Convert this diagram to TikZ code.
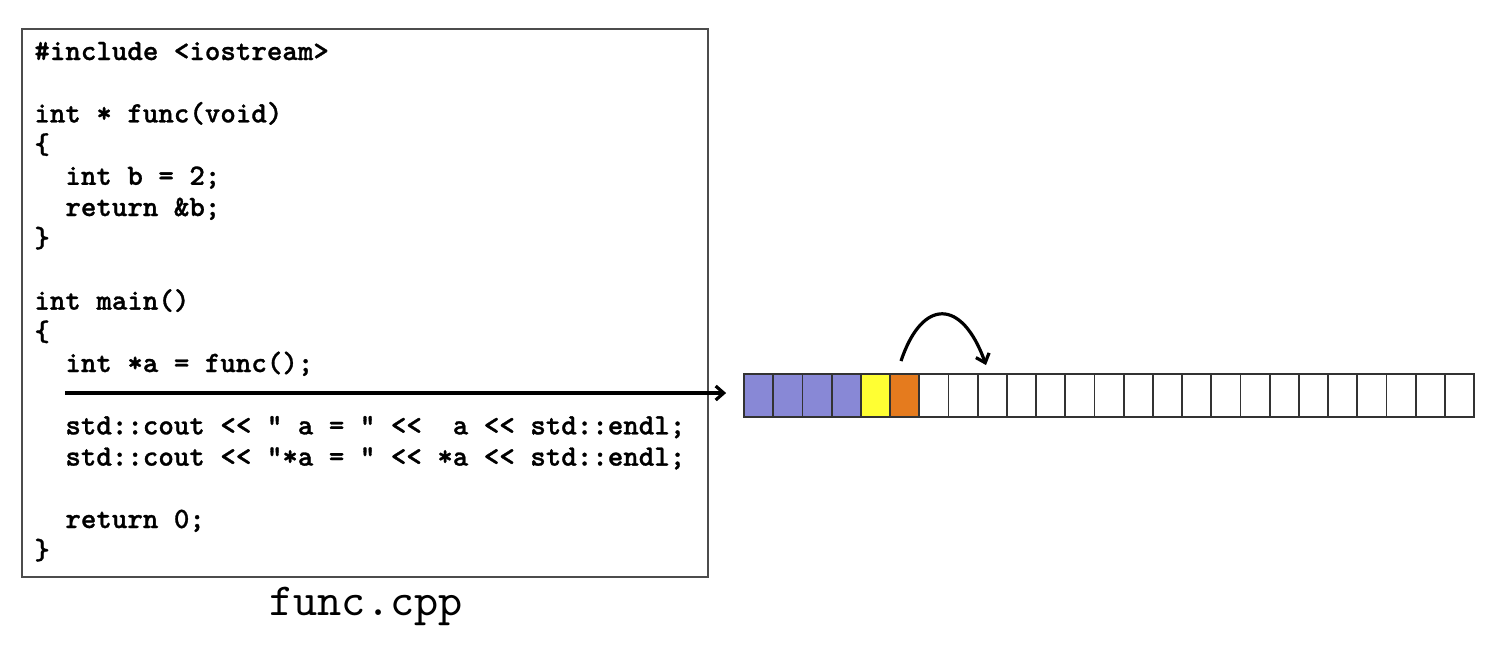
\documentclass[tikz,border=0pt]{standalone}
\usepackage{fontspec}
\newfontfamily\codeFont{lmmonolt10-bold.otf}[FakeBold=1]
\newfontfamily\nameFont{lmmono10-regular.otf}
\usetikzlibrary{arrows.meta}
\usetikzlibrary{calc}
\definecolor{stackBlue}{RGB}{136,136,214}
\definecolor{stackYellow}{RGB}{255,255,51}
\definecolor{stackOrange}{RGB}{229,123,30}
\tikzset{codeLine/.style={anchor=base west,inner sep=0pt,font=\codeFont\fontsize{14.76}{15.6}\selectfont}}
\tikzset{memCell/.style={draw=black!80,line width=0.9pt,minimum width=14.6pt,minimum height=21.35pt,inner sep=0pt}}
\tikzset{pointer/.style={line width=1.6pt,-{Straight Barb[length=4pt,width=7pt]}}}

\begin{document}
\begin{tikzpicture}[x=0.5pt,y=-0.5pt]
\useasboundingbox (0,0) rectangle (1495,645);
\def \lineSkip{31.2}
\def \cellWidth{29.2}

% source file
\draw[black!70,line width=0.6pt] (22,29) rectangle (708,577);
\foreach \row/\col/\txt in {0/0/{\#include <iostream>}, 2/0/{int * func(void)}, 3/0/{\{},
    4/31/{int b = 2;}, 5/31/{return \&b;}, 6/0/{\}}, 8/0/{int main()}, 9/0/{\{},
    10/31/{int *a = func();}, 12/31/{std::cout << " a = " <<~~a << std::endl;},
    13/31/{std::cout << "*a = " << *a << std::endl;}, 15/31/{return 0;}, 16/0/{\}}}
  \node[codeLine] (line\row) at (34+\col, 60+\lineSkip*\row) {\txt};
\node[anchor=base,inner sep=0pt,font=\nameFont\fontsize{22.97}{26}\selectfont] (fileName) at (366,615) {func.cpp};

% memory
\foreach \i in {1,...,25}{
  \ifnum\i<5 \def\cellColor{stackBlue}\else\ifnum\i=5 \def\cellColor{stackYellow}\else\ifnum\i=6 \def\cellColor{stackOrange}\else\def\cellColor{white}\fi\fi\fi
  \node[memCell,fill=\cellColor] (cell\i) at (744+\cellWidth*\i-\cellWidth/2, 395.3) {};
}

% arrows
\coordinate (callSite) at (65,393);
\draw[pointer,shorten >=8.5pt] (callSite) -- (callSite -| cell1.west);
\draw[pointer] ([xshift=-1.8pt,yshift=6pt]cell6.north) .. controls (922,298) and (962,298) .. ([xshift=-3.1pt,yshift=4pt]cell9.north);
\end{tikzpicture}
\end{document}
